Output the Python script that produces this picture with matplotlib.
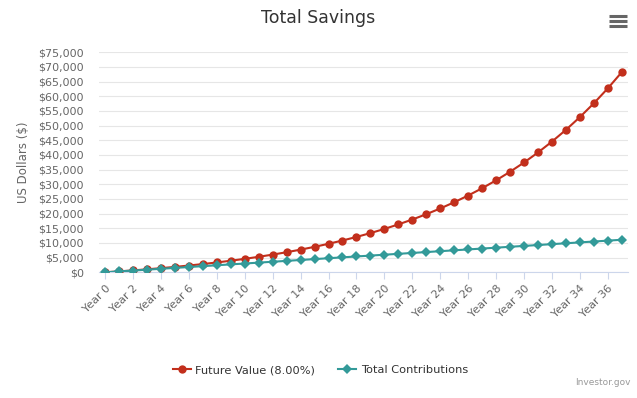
import matplotlib
matplotlib.use("Agg")
import matplotlib.pyplot as plt
from matplotlib.lines import Line2D
from matplotlib.ticker import FuncFormatter, MultipleLocator

# data
years = list(range(38))
future_value = [0, 312, 650, 1016, 1413, 1843, 2308, 2812, 3358, 3950,
                4590, 5284, 6036, 6850, 7731, 8686, 9720, 10840, 12053, 13367,
                14790, 16331, 18000, 19808, 21766, 23887, 26184, 28671, 31365, 34283,
                37443, 40866, 44573, 48587, 52935, 57644, 62744, 68267]
contributions = [0, 300, 600, 900, 1200, 1500, 1800, 2100, 2400, 2700,
                 3000, 3300, 3600, 3900, 4200, 4500, 4800, 5100, 5400, 5700,
                 6000, 6300, 6600, 6900, 7200, 7500, 7800, 8100, 8400, 8700,
                 9000, 9300, 9600, 9900, 10200, 10500, 10800, 11100]
tick_years = years[::2]
tick_labels = ["Year %d" % y for y in tick_years]

red = "#c22f1c"
teal = "#339a99"

fig = plt.figure(figsize=(6.37, 3.98), dpi=100)
ax = fig.add_axes([0.1554, 0.3158, 0.8305, 0.5528])

ax.plot(years, future_value, color=red, lw=1.5, marker="o", ms=6, mew=0,
        label="Future Value (8.00%)", zorder=3)
ax.plot(years, contributions, color=teal, lw=1.5, marker="D", ms=4.8, mew=0,
        label="Total Contributions", zorder=4)

ax.set_xlim(-0.43, 37.44)
ax.set_ylim(0, 75000)
ax.yaxis.set_major_locator(MultipleLocator(5000))
ax.yaxis.set_major_formatter(FuncFormatter(lambda v, p: "${:,.0f}".format(v)))
ax.grid(axis="y", color="#e6e6e6", lw=0.8)
ax.set_axisbelow(True)

for s in ["top", "right", "left"]:
    ax.spines[s].set_visible(False)
ax.spines["bottom"].set_color("#ccd6eb")
ax.spines["bottom"].set_linewidth(0.8)

ax.set_xticks(tick_years)
ax.set_xticklabels(tick_labels, rotation=45, ha="right", rotation_mode="anchor")
ax.tick_params(axis="x", colors="#ccd6eb", length=5, width=0.8, labelcolor="#666666",
               labelsize=8, pad=3)
ax.tick_params(axis="y", length=0, labelcolor="#666666", labelsize=8, pad=11)

ax.set_ylabel("US Dollars ($)", color="#666666", fontsize=8.5, labelpad=6)

fig.text(0.5, 0.955, "Total Savings", ha="center", va="center", fontsize=12.5,
         color="#333333")

leg = fig.legend(loc="center", bbox_to_anchor=(0.503, 0.07), ncol=2, frameon=False,
                 fontsize=8.2, handlelength=1.6, columnspacing=2.0, handletextpad=0.4)
for t in leg.get_texts():
    t.set_color("#333333")

fig.text(0.99, 0.04, "Investor.gov", ha="right", va="center", fontsize=6.5,
         color="#999999")

# menu icon
for yy in [16, 21, 26]:
    fig.add_artist(Line2D([609 / 637, 627 / 637], [1 - yy / 398, 1 - yy / 398],
                          color="#666666", lw=2.2, solid_capstyle="butt"))

fig.savefig("out.png", dpi=100)
